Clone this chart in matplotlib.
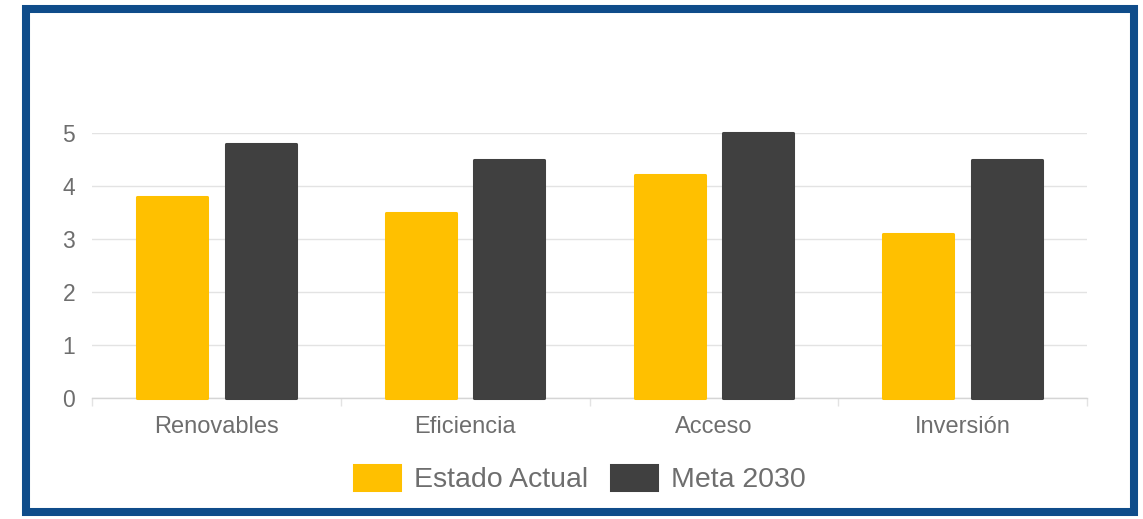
import matplotlib.pyplot as plt
from matplotlib.patches import Rectangle
import numpy as np

# données du graphique
categories = ["Renovables", "Eficiencia", "Acceso", "Inversión"]
estado_actual = [3.8, 3.5, 4.2, 3.1]
meta_2030 = [4.8, 4.5, 5.0, 4.5]
series = ["Estado Actual", "Meta 2030"]

couleur_actual = "#FFC000"
couleur_meta = "#404040"
couleur_texte = "#6e6e6e"
couleur_grille = "#e3e3e3"

plt.rcParams["font.family"] = ["Liberation Sans", "DejaVu Sans"]

fig = plt.figure(figsize=(11.43, 5.19), dpi=100)
ax = fig.add_axes([92 / 1143, 1 - 398 / 519, (1087 - 92) / 1143, (398 - 133) / 519])

x = np.arange(len(categories))
largeur = 0.282
decalage = 0.178

barres1 = ax.bar(x - decalage, estado_actual, largeur, color=couleur_actual,
                 edgecolor=couleur_actual, linewidth=2.2, joinstyle="round",
                 label=series[0], zorder=3, clip_on=False)
barres2 = ax.bar(x + decalage, meta_2030, largeur, color=couleur_meta,
                 edgecolor=couleur_meta, linewidth=2.2, joinstyle="round",
                 label=series[1], zorder=3, clip_on=False)

ax.set_xlim(-0.5, len(categories) - 0.5)
ax.set_ylim(0, 5)

# grille horizontale
ax.set_yticks(range(0, 6))
ax.yaxis.grid(True, color=couleur_grille, linewidth=1, zorder=0)
ax.tick_params(axis="y", length=0, pad=12, labelsize=16.5, labelcolor=couleur_texte)

# étiquettes au centre, petites marques entre les catégories
ax.set_xticks(x)
ax.set_xticklabels(categories)
ax.set_xticks(np.arange(-0.5, len(categories)), minor=True)
ax.tick_params(axis="x", which="major", length=0, pad=13, labelsize=17,
               labelcolor=couleur_texte)
ax.tick_params(axis="x", which="minor", length=6, width=1, color=couleur_grille)

for cote in ["top", "right", "left"]:
    ax.spines[cote].set_visible(False)
ax.spines["bottom"].set_color("#d5d5d5")
ax.spines["bottom"].set_linewidth(1)

leg = fig.legend(handles=[barres1, barres2], labels=series, loc="center",
                 bbox_to_anchor=(580 / 1143, 1 - 479 / 519), ncol=2, frameon=False,
                 fontsize=20.5, handlelength=1.6, handleheight=1.0,
                 handletextpad=0.5, columnspacing=0.8)
for t in leg.get_texts():
    t.set_color(couleur_texte)

# cadre bleu autour du graphique
fig.patches.append(Rectangle((26 / 1143, 1 - 512 / 519), (1134 - 26) / 1143,
                             (512 - 9) / 519, transform=fig.transFigure,
                             fill=False, edgecolor="#0f4c8a", linewidth=5.8))

fig.savefig("out.png", dpi=100)
